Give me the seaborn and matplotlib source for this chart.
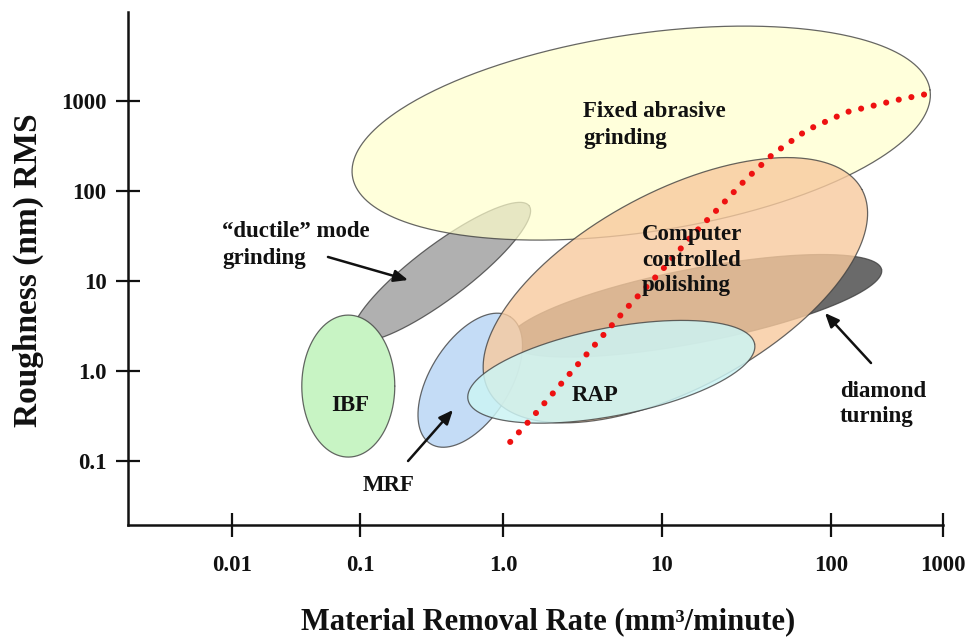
import numpy as np
import pandas as pd
import matplotlib
matplotlib.use("Agg")
import matplotlib.pyplot as plt
import seaborn as sns

# ---------------- data ----------------
process_names = ["Fixed abrasive grinding", "Computer controlled polishing", "diamond turning",
                 "\u201cductile\u201d mode grinding", "IBF", "MRF", "RAP"]
center_rate = [7.4, 12.0, 15.7, 0.37, 0.081, 0.59, 4.8]        # mm3/minute
center_rough = [440, 7.9, 5.3, 12.6, 0.68, 0.79, 0.98]         # nm RMS

trend_rate = [1.11, 1.44, 2.76, 6.0, 10, 14.6, 21.1, 31, 45.4, 72.1, 139, 388, 800]
trend_rough = [0.163, 0.271, 1.03, 5.0, 13.2, 30, 61.5, 132, 258, 476, 755, 1026, 1230]

x_ticks = [0.01, 0.1, 1, 10, 100, 1000]
x_tick_labels = ["0.01", "0.1", "1.0", "10", "100", "1000"]
y_ticks = [0.1, 1, 10, 100, 1000]
y_tick_labels = ["0.1", "1.0", "10", "100", "1000"]

# ---------------- style ----------------
sns.set_theme(style="white")
plt.rcParams["font.family"] = ["Liberation Serif", "DejaVu Serif"]
plt.rcParams["font.weight"] = "bold"

# shape of each region: semi-axes (px), angle (deg), face, alpha, zorder
shapes = {
    "Fixed abrasive grinding":        (292, 99, 8.5, "#FFFFCC", 0.70, 4),
    "Computer controlled polishing":  (212, 98, 28.4, "#F8CA9E", 0.80, 5),
    "diamond turning":                (190, 37, 11, "#6A6A6A", 1.0, 1),
    "\u201cductile\u201d mode grinding": (110, 27, 37, "#B0B0B0", 1.0, 2),
    "IBF":                            (46.5, 71, 0, "#C8F4C4", 1.0, 6),
    "MRF":                            (75, 40, 58, "#C4DCF6", 1.0, 3),
    "RAP":                            (146, 44, 11, "#CCF4F4", 0.85, 7),
}

# irregular hand-drawn decade ruler of the x axis
RULER_LOG = [-3, -2, -1, 0, 1, 2, 3, 4]
RULER_POS = [-128, 0, 128, 271, 430, 599, 711, 823]

def fwd(x):
    x = np.asarray(x, dtype=float)
    return np.interp(np.log10(np.clip(x, 1e-12, None)), RULER_LOG, RULER_POS)

def inv(p):
    return 10 ** np.interp(np.asarray(p, dtype=float), RULER_POS, RULER_LOG)

fig = plt.figure(figsize=(9.74, 6.37), dpi=100)
ax = fig.add_axes([128 / 974, 112 / 637, 815 / 974, 513 / 637])
ax.set_xscale("function", functions=(fwd, inv))
ax.set_yscale("log")
XLIM = (10 ** -2.8125, 1000)
YLIM = (10 ** -1.711, 10 ** 3.989)
ax.set_xlim(*XLIM)
ax.set_ylim(*YLIM)

def ellipse_xy(cx, cy, a, b, ang):
    c = ax.transData.transform([[cx, cy]])[0]
    t = np.linspace(0, 2 * np.pi, 400)
    th = np.deg2rad(ang)
    px = c[0] + a * np.cos(t) * np.cos(th) - b * np.sin(t) * np.sin(th)
    py = c[1] + a * np.cos(t) * np.sin(th) + b * np.sin(t) * np.cos(th)
    d = ax.transData.inverted().transform(np.column_stack([px, py]))
    return d[:, 0], d[:, 1]

for name, cx, cy in zip(process_names, center_rate, center_rough):
    a, b, ang, fc, al, z = shapes[name]
    xs, ys = ellipse_xy(cx, cy, a, b, ang)
    ax.fill(xs, ys, facecolor=fc, alpha=al, edgecolor="none", zorder=z)
    ax.plot(xs, ys, color="#404040", lw=0.9, alpha=0.8, zorder=z + 0.1)

# trend line (red dotted)
trend = pd.DataFrame({"rate": trend_rate, "rough": trend_rough})
sns.lineplot(data=trend, x="rate", y="rough", sort=False, estimator=None, ax=ax,
             color="#EE1111", lw=4.4, linestyle=(0, (0.01, 2.1)),
             dash_capstyle="round", zorder=9)

# labels
lab = dict(fontsize=16.5, fontweight="bold", color="#111111", zorder=10)
ax.text(3.18, 541, "Fixed abrasive\ngrinding", ha="left", va="center", linespacing=1.35, **lab)
ax.text(0.00835, 25.1, "\u201cductile\u201d mode\ngrinding", ha="left", va="center", linespacing=1.35, **lab)
ax.text(7.48, 17.1, "Computer\ncontrolled\npolishing", ha="left", va="center", linespacing=1.3, **lab)
ax.text(0.0835, 0.419, "IBF", ha="center", va="center", **lab)
ax.text(0.1596, 0.0541, "MRF", ha="center", va="center", **lab)
ax.text(3.79, 0.541, "RAP", ha="center", va="center", **lab)
ax.text(120, 0.43, "diamond\nturning", ha="left", va="center", linespacing=1.2, **lab)

arrow = dict(arrowstyle="-|>,head_length=0.7,head_width=0.3", color="#111111", lw=1.8,
             mutation_scale=12, shrinkA=0, shrinkB=0)
ax.annotate("", xy=(0.2168, 10.26), xytext=(0.0562, 18.5), arrowprops=arrow, zorder=10)
ax.annotate("", xy=(0.4467, 0.369), xytext=(0.2168, 0.1), arrowprops=arrow, zorder=10)
ax.annotate("", xy=(92.1, 4.41), xytext=(227.6, 1.227), arrowprops=arrow, zorder=10)

# axes
ax.set_xticks(x_ticks, labels=x_tick_labels)
ax.set_yticks(y_ticks, labels=y_tick_labels)
ax.xaxis.set_minor_locator(matplotlib.ticker.NullLocator())
ax.yaxis.set_minor_locator(matplotlib.ticker.NullLocator())
ax.tick_params(axis="both", which="major", direction="inout", length=17, width=1.6,
               color="#111111", labelsize=16.5, labelcolor="#111111")
ax.tick_params(axis="y", pad=7, left=True)
ax.tick_params(axis="x", pad=13, bottom=True)
for lbl in ax.get_xticklabels() + ax.get_yticklabels():
    lbl.set_fontweight("bold")
for s in ["top", "right"]:
    ax.spines[s].set_visible(False)
for s in ["left", "bottom"]:
    ax.spines[s].set_color("#111111")
    ax.spines[s].set_linewidth(1.8)
ax.set_facecolor("white")
ax.grid(False)

ax.set_xlabel("Material Removal Rate (mm\u00b3/minute)", fontsize=22, fontweight="bold", color="#111111")
ax.set_ylabel("Roughness (nm) RMS", fontsize=24, fontweight="bold", color="#111111")
ax.xaxis.label.set_va("center")
ax.yaxis.label.set_va("center")
ax.xaxis.set_label_coords((548 - 128) / 815, (525 - 622) / 513)
ax.yaxis.set_label_coords((28 - 128) / 815, (525 - 270) / 513)

ax.set_xlim(*XLIM)
ax.set_ylim(*YLIM)
fig.savefig("out.png", dpi=100, facecolor="white")
